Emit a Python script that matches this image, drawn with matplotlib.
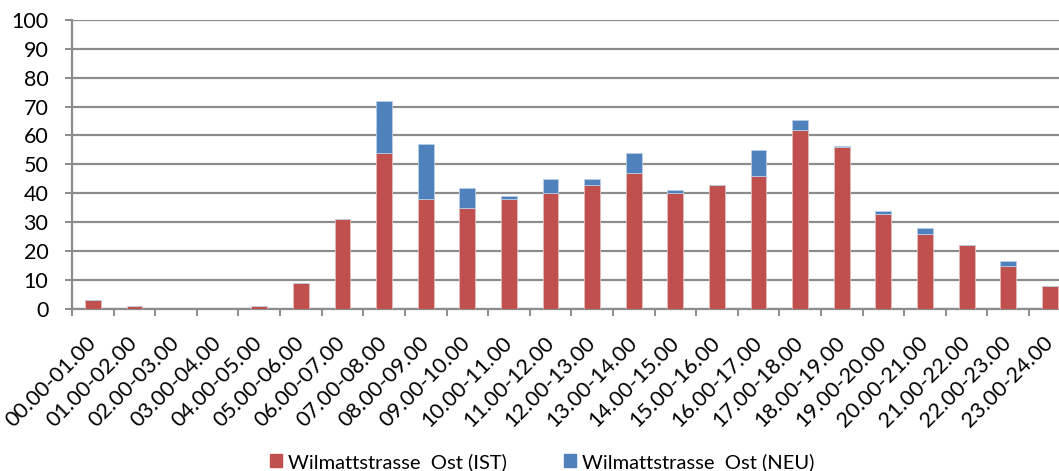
import matplotlib
matplotlib.use("Agg")
import matplotlib.pyplot as plt
from matplotlib.patches import Patch
import numpy as np

plt.rcParams["font.family"] = ["Lato", "DejaVu Sans"]

hours = [
    "00.00-01.00", "01.00-02.00", "02.00-03.00", "03.00-04.00", "04.00-05.00",
    "05.00-06.00", "06.00-07.00", "07.00-08.00", "08.00-09.00", "09.00-10.00",
    "10.00-11.00", "11.00-12.00", "12.00-13.00", "13.00-14.00", "14.00-15.00",
    "15.00-16.00", "16.00-17.00", "17.00-18.00", "18.00-19.00", "19.00-20.00",
    "20.00-21.00", "21.00-22.00", "22.00-23.00", "23.00-24.00",
]
ist = [3, 1, 0, 0, 1, 9, 31, 54, 38, 35, 38, 40, 43, 47, 40, 43, 46, 62, 56, 33, 26, 22, 15, 8]
neu = [0, 0, 0, 0, 0, 0, 0, 18, 19, 7, 1, 5, 2, 7, 1, 0, 9, 3.5, 0.5, 1, 2, 0, 1.5, 0]

red = "#C0504D"
blue = "#4F81BD"
grid_c = "#8C8C8C"

fig = plt.figure(figsize=(10.59, 4.71), dpi=100)
ax = fig.add_axes([0.068, 0.344, 0.943, 0.614])

x = np.arange(len(hours))
w = 0.38
ax.bar(x, ist, width=w, color=red, edgecolor="#E6B9B8", linewidth=0.6, zorder=3)
ax.bar(x, neu, width=w, bottom=ist, color=blue, edgecolor="#B9CDE5", linewidth=0.6, zorder=3)

ax.set_xlim(-0.5, len(hours) - 0.5)
ax.set_ylim(0, 100)
ax.set_yticks(range(0, 101, 10))
ax.yaxis.grid(True, color=grid_c, linewidth=1.6, zorder=0)
ax.set_axisbelow(True)

ax.set_xticks(x)
ax.set_xticklabels(hours, rotation=45, ha="right", va="center", rotation_mode="anchor",
                   fontsize=15.6)
ax.set_xticks(np.arange(-0.5, len(hours)), minor=True)
ax.tick_params(axis="x", which="major", length=0, pad=22)
ax.tick_params(axis="x", which="minor", length=5, width=1.4, color=grid_c, direction="out")
ax.tick_params(axis="y", length=5, width=1.4, color=grid_c, labelsize=15.5, pad=12)

for s in ["top", "right"]:
    ax.spines[s].set_visible(False)
for s in ["left", "bottom"]:
    ax.spines[s].set_color(grid_c)
    ax.spines[s].set_linewidth(1.6)

handles = [Patch(color=red), Patch(color=blue)]
fig.legend(handles, ["Wilmattstrasse  Ost (IST)", "Wilmattstrasse  Ost (NEU)"],
           loc="lower center", bbox_to_anchor=(0.512, -0.038), ncol=2, frameon=False,
           fontsize=14.5, handlelength=0.6, handleheight=0.6, handletextpad=0.3,
           columnspacing=2.8)

fig.savefig("out.png", dpi=100)
plt.close(fig)
